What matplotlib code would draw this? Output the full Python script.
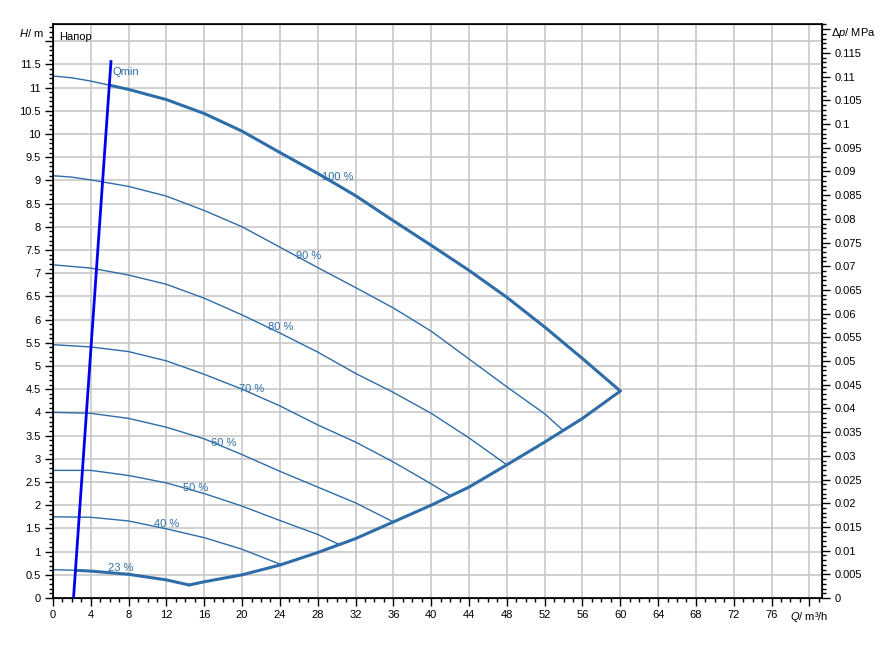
"""
Pump curve chart (Напор)
"""

import matplotlib.pyplot as plt
import numpy as np
from matplotlib.ticker import MultipleLocator, FixedLocator, FuncFormatter

plt.rcParams['font.family'] = ['Liberation Sans', 'DejaVu Sans']
plt.rcParams['mathtext.fontset'] = 'custom'
plt.rcParams['mathtext.it'] = 'Liberation Sans:italic'
plt.rcParams['mathtext.rm'] = 'Liberation Sans'

# curve data: Q in m3/h, H in m
q100 = [0, 2, 4, 6, 8, 12, 16, 20, 24, 28, 32, 36, 40, 44, 48, 52, 56, 60]
h100 = [11.25, 11.21, 11.14, 11.05, 10.96, 10.74, 10.44, 10.06, 9.6, 9.15, 8.67, 8.13, 7.6, 7.06, 6.48, 5.84, 5.16, 4.46]
q90 = [0, 2, 4, 8, 12, 16, 20, 24, 28, 32, 36, 40, 44, 48, 52, 53.9]
h90 = [9.1, 9.07, 9.01, 8.87, 8.66, 8.35, 8.0, 7.56, 7.12, 6.69, 6.25, 5.75, 5.15, 4.55, 3.97, 3.62]
q80 = [0, 4, 8, 12, 16, 20, 24, 28, 32, 36, 40, 44, 48]
h80 = [7.18, 7.11, 6.96, 6.76, 6.46, 6.1, 5.71, 5.3, 4.84, 4.43, 3.98, 3.45, 2.87]
q70 = [0, 4, 8, 12, 16, 20, 24, 28, 32, 36, 40, 42]
h70 = [5.46, 5.41, 5.31, 5.11, 4.82, 4.5, 4.14, 3.73, 3.36, 2.93, 2.46, 2.21]
q60 = [0, 4, 8, 12, 16, 20, 24, 28, 32, 36]
h60 = [4.0, 3.98, 3.87, 3.68, 3.43, 3.09, 2.73, 2.39, 2.05, 1.64]
q50 = [0, 4, 8, 12, 16, 20, 24, 28, 30.2]
h50 = [2.75, 2.75, 2.64, 2.48, 2.25, 1.98, 1.67, 1.37, 1.16]
q40 = [0, 4, 8, 12, 16, 20, 24]
h40 = [1.75, 1.74, 1.66, 1.49, 1.3, 1.05, 0.73]
q23 = [0, 2, 4, 8, 12, 14.4]
h23 = [0.61, 0.6, 0.58, 0.51, 0.39, 0.28]
# max power limit line
q_lim = [14.4, 16, 20, 24, 28, 32, 36, 40, 44, 48, 52, 56, 60]
h_lim = [0.28, 0.35, 0.5, 0.71, 0.98, 1.28, 1.64, 2.0, 2.39, 2.87, 3.36, 3.87, 4.46]
# Qmin line
q_min = [2.17, 6.13]
h_min = [0.0, 11.56]

labels = ['100 %', '90 %', '80 %', '70 %', '60 %', '50 %', '40 %', '23 %']
label_q = [28.4, 25.7, 22.7, 19.7, 16.7, 13.7, 10.7, 5.85]
label_h = [9.07, 7.36, 5.85, 4.5, 3.33, 2.38, 1.59, 0.64]

MPA_PER_M = 0.00979
H_TOP = 12.37
Q_RIGHT = 81.3

c_line = '#2e6da8'
c_grid = '#c8c8c8'

fig = plt.figure(figsize=(8.88, 6.5), dpi=100)
ax = fig.add_axes([53 / 888, 1 - 598 / 650, (821.7 - 53) / 888, (598 - 24) / 650])

ax.set_xlim(0, Q_RIGHT)
ax.set_ylim(0, H_TOP)

# grid
ax.xaxis.set_major_locator(MultipleLocator(4))
ax.xaxis.set_minor_locator(MultipleLocator(1))
ax.yaxis.set_major_locator(MultipleLocator(0.5))
ax.yaxis.set_minor_locator(MultipleLocator(0.1))
ax.grid(True, which='major', color=c_grid, linewidth=1.2, zorder=0)
ax.set_axisbelow(True)

thin = 1.0
thick = 2.2
for q, h in [(q90, h90), (q80, h80), (q70, h70), (q60, h60), (q50, h50), (q40, h40)]:
    ax.plot(q, h, color=c_line, lw=thin, zorder=3)

# 100 % and 23 % are thin left of Qmin, thick after
for q, h in [(q100, h100), (q23, h23)]:
    q = np.array(q)
    h = np.array(h)
    ax.plot(q, h, color=c_line, lw=thin, zorder=3)
    # crossing with Qmin line
    qm = np.interp(np.interp(q, q, h), h_min, q_min)
    cross = q[np.argmin(np.abs(q - qm))]
    qc = q_min[0] + (q_min[1] - q_min[0]) * np.interp(cross, q, h) / h_min[1]
    keep = q > qc
    qq = np.concatenate([[qc], q[keep]])
    hh = np.concatenate([[np.interp(qc, q, h)], h[keep]])
    ax.plot(qq, hh, color=c_line, lw=thick, zorder=3, solid_capstyle='round')

ax.plot(q_lim, h_lim, color=c_line, lw=thick, zorder=3, solid_capstyle='round')
ax.plot(q_min, h_min, color='#0000ee', lw=2.0, zorder=4)

for txt, x, y in zip(labels, label_q, label_h):
    ax.text(x, y, txt, color=c_line, fontsize=8, ha='left', va='center', zorder=5)
ax.text(q_min[1] + 0.2, 11.34, 'Qmin', color=c_line, fontsize=8, ha='left', va='center', zorder=5)
ax.text(0.7, 12.1, 'Напор', color='black', fontsize=8, ha='left', va='center', zorder=5)

# ticks
x_ticks = list(range(0, 81, 4))
ax.xaxis.set_major_formatter(FuncFormatter(lambda v, p: '$Q$/ m³/h' if round(v) == 80 else f'{v:g}'))
ax.yaxis.set_major_formatter(FuncFormatter(lambda v, p: '' if v > 11.9 else f'{v:g}'))
ax.tick_params(which='major', direction='out', length=6, width=1, labelsize=8, pad=3)
ax.tick_params(which='minor', direction='out', length=3, width=1)
for s in ax.spines.values():
    s.set_linewidth(1.2)
ax.text(-0.012, 12.18, '$H$/ m', transform=ax.get_yaxis_transform(), ha='right', va='center', fontsize=8)

ax2 = ax.twinx()
ax2.set_ylim(0, H_TOP * MPA_PER_M)
ax2.yaxis.set_major_locator(MultipleLocator(0.005))
ax2.yaxis.set_minor_locator(MultipleLocator(0.001))
ax2.yaxis.set_major_formatter(FuncFormatter(lambda v, p: '' if v > 0.1175 else f'{round(v, 3):g}'))
ax2.tick_params(which='major', direction='out', length=6, width=1, labelsize=8, pad=3)
ax2.tick_params(which='minor', direction='out', length=3, width=1)
ax2.text(1.012, 12.18 * MPA_PER_M, 'Δ$p$/ MPa', transform=ax2.get_yaxis_transform(), ha='left', va='center', fontsize=8)

plt.savefig('out.png', dpi=100)
plt.close()
